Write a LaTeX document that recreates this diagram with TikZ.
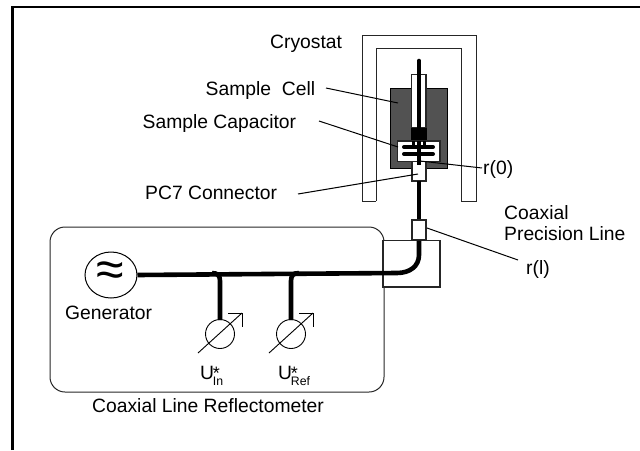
\documentclass[tikz,border=0pt]{standalone}
\usepackage{fontspec}
\usetikzlibrary{shapes.geometric}
\setmainfont{Liberation Sans}
\newcommand{\meterlabel}[1]{U\kern-1.2pt\rlap{\fontsize{18}{20}\selectfont *}\raisebox{-6pt}{\fontsize{12.3}{15}\selectfont #1}}
\tikzset{
  lbl/.style={inner sep=0pt,anchor=base west,font=\fontsize{19.3}{22}\selectfont},
  thin line/.style={draw=black,line width=0.9pt},
  box/.style={draw=black!85,line width=1.1pt},
  leader/.style={draw=black,line width=1pt},
  coax/.style={draw=black,line width=4.6pt},
}
\begin{document}
\begin{tikzpicture}[x=1pt,y=-1pt]
\useasboundingbox (0,0) rectangle (640,450);
% outer frame (open right and bottom)
\draw[line width=2.2pt] (12.5,450) -- (12.5,7) -- (640,7);
% cryostat
\draw[box,line width=1pt] (362,35) rectangle (476,201);
\fill[white] (376,48) rectangle (461,205);
\draw[box,line width=1pt] (376,201) -- (376,48) -- (461,48) -- (461,201);
% sample cell
\draw[black,line width=1pt,fill=black!68] (390,88) rectangle (447,168);
\draw[box,fill=white] (411.5,74.5) rectangle (426,128);
\draw[black,fill=black] (411.5,128) rectangle (426,141);
\draw[box,fill=white] (397.5,141) rectangle (440,161.5);
\draw[box,fill=white] (412,161.5) rectangle (426,181);
% inner conductor
\draw[coax,line cap=round] (419,61) -- (419,128);
\draw[coax] (419,141) -- (419,165);
\draw[coax] (419,181) -- (419,220);
\fill (411.5,141) rectangle (415,146);
\fill (422.5,141) rectangle (426,146);
\draw[black,line width=4pt,line cap=round] (404,147) -- (433,147);
\draw[black,line width=4pt,line cap=round] (404,154) -- (433,154);
% reflectometer
\draw[black!85,line width=1pt,rounded corners=15pt] (50,227) rectangle (384,392);
\draw[box,fill=white] (383,240.5) rectangle (440,287);
\node[draw=black!85,line width=1.1pt,fill=white,minimum width=14pt,minimum height=20pt,inner sep=0pt] (prec) at (419,230) {};
% generator
\node[draw=black,line width=1pt,ellipse,minimum width=52pt,minimum height=46pt,inner sep=0pt] (gen) at (111,275) {};
\node[inner sep=0pt,font=\fontsize{50}{50}\selectfont] at (110,274.5) {≈};
% coax main
\coordinate (bend) at (397,273);
\draw[coax] (gen.east) -- (bend) .. controls (410,273) and (419,266) .. (419,255) -- (prec.south);
% meters
\coordinate (m1) at (220,334);
\coordinate (m2) at (291,334);
\draw[coax] (212,273) .. controls (218,273) and (220,276) .. (220,281) -- (220,320);
\draw[coax] (299,273) .. controls (293,273) and (291,276) .. (291,281) -- (291,320);
\draw[thin line] (m1) circle (14.5);
\draw[thin line] (m2) circle (14.5);
\draw[thin line] (198,353) -- (242,313);
\draw[thin line] (228,313) -- (242,313) -- (242,327);
\draw[thin line] (269,353) -- (313,313);
\draw[thin line] (299,313) -- (313,313) -- (313,327);
% labels
\node[lbl] (cryo) at (270,48.5) {Cryostat};
\node[lbl] (cell) at (205.5,95) {Sample\ \ Cell};
\node[lbl] (cap) at (142.5,128) {Sample Capacitor};
\node[lbl] (pc7) at (145,199) {PC7 Connector};
\node[lbl] (r0) at (483,174) {r(0)};
\node[lbl] (rl) at (526,274) {r(l)};
\node[lbl] (cx) at (504,219) {Coaxial};
\node[lbl] (pl) at (504,240) {Precision Line};
\node[lbl] (genl) at (65,319) {Generator};
\node[lbl] (title) at (92,412) {Coaxial Line Reflectometer};
\node[lbl] (u1) at (200,379) {\meterlabel{In}};
\node[lbl] (u2) at (278,379) {\meterlabel{Ref}};
% leaders
\coordinate (a1) at (326,88); \coordinate (a2) at (398,103);
\coordinate (b1) at (319,121); \coordinate (b2) at (398,147);
\coordinate (c1) at (298,194); \coordinate (c2) at (418,174);
\coordinate (d1) at (420,161); \coordinate (d2) at (482,168);
\coordinate (e1) at (427,228); \coordinate (e2) at (518,260);
\draw[leader] (a1) -- (a2);
\draw[leader] (b1) -- (b2);
\draw[leader] (c1) -- (c2);
\draw[leader] (d1) -- (d2);
\draw[leader] (e1) -- (e2);
\end{tikzpicture}
\end{document}
